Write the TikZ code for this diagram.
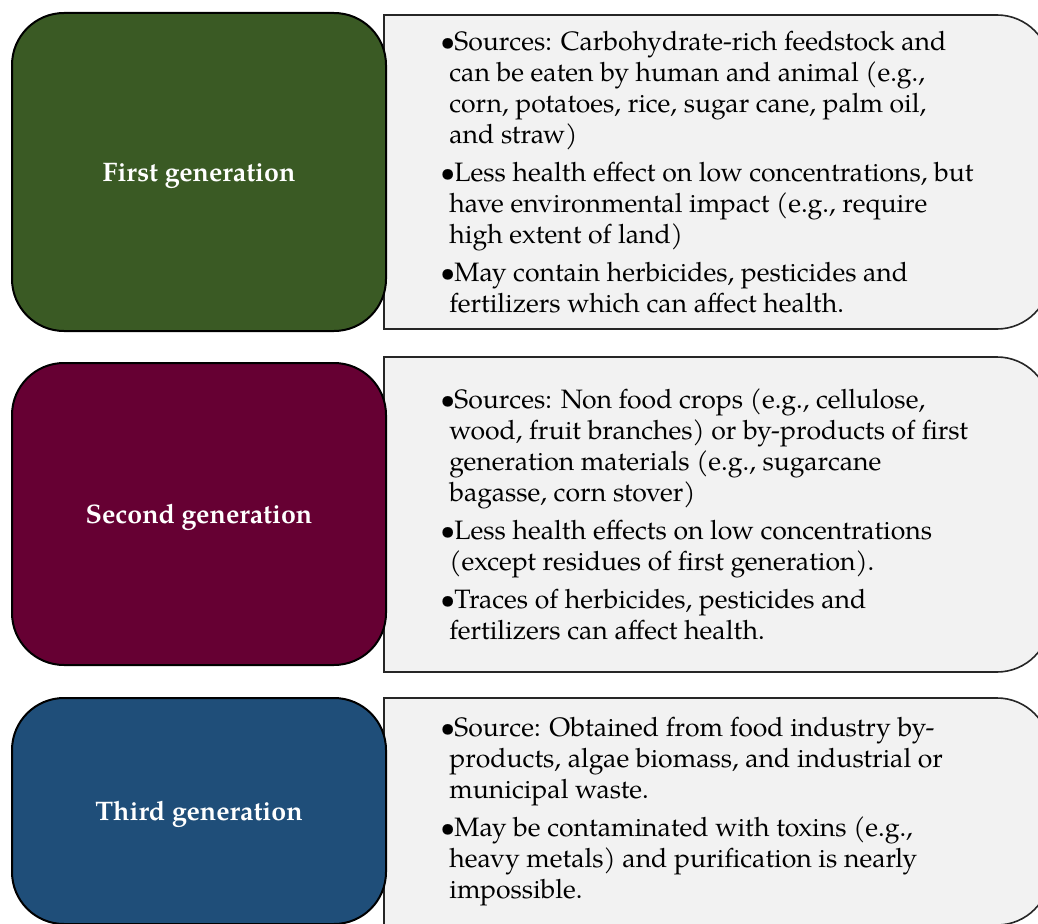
\documentclass[tikz,border=0pt]{standalone}
\usepackage{fontspec}
\setmainfont{TeX Gyre Pagella}
\definecolor{gGreen}{HTML}{3A5A24}
\definecolor{gMaroon}{HTML}{660033}
\definecolor{gBlue}{HTML}{1F4E79}
\definecolor{panel}{HTML}{F2F2F2}
\tikzset{
  genbox/.style={draw=black, line width=1pt, rounded corners=26pt, minimum width=187pt,
    text=white, font=\fontsize{13.4}{15}\selectfont\bfseries, inner sep=0pt, text depth=0pt},
  panelbox/.style={draw=black!85, line width=0.8pt, fill=panel},
  txt/.style={anchor=west, inner sep=0pt, align=left, text=black,
    font=\fontsize{13.3}{15.5}\selectfont}
}
\newcommand{\bitem}{\makebox[7pt][l]{\textbullet}}
\newcommand{\cont}{\hspace*{4.5pt}}
\begin{document}
\begin{tikzpicture}[x=0.5pt,y=0.5pt]
\clip (0,0) rectangle (1038,923);
\fill[white] (0,0) rectangle (1038,923);
% panels
\draw[panelbox] (384,594) -- (384,908) -- (997,908) arc[start angle=90,end angle=0,radius=26.5pt]
  -- (1050,647) arc[start angle=0,end angle=-90,radius=26.5pt] -- cycle;
\draw[panelbox] (384,251) -- (384,566) -- (997,566) arc[start angle=90,end angle=0,radius=26.5pt]
  -- (1050,304) arc[start angle=0,end angle=-90,radius=26.5pt] -- cycle;
\draw[panelbox] (384,-2) -- (384,225) -- (997,225) arc[start angle=90,end angle=0,radius=26.5pt]
  -- (1050,51) arc[start angle=0,end angle=-90,radius=26.5pt] -- cycle;
% generation boxes
\node[genbox, fill=gGreen, minimum height=159pt] (g1) at (199,751) {First generation};
\node[genbox, fill=gMaroon, minimum height=151pt] (g2) at (199,409) {Second generation};
\node[genbox, fill=gBlue, minimum height=113pt] (g3) at (199,112) {Third generation};
% texts
\node[txt] (t1) at (440,751) {%
\bitem Sources: Carbohydrate-rich feedstock and\\
\cont can be eaten by human and animal (e.g.,\\
\cont corn, potatoes, rice, sugar cane, palm oil,\\
\cont and straw)\\[3.5pt]
\bitem Less health effect on low concentrations, but\\
\cont have environmental impact (e.g., require\\
\cont high extent of land)\\[3.5pt]
\bitem May contain herbicides, pesticides and\\
\cont fertilizers which can affect health.};
\node[txt] (t2) at (440,408.5) {%
\bitem Sources: Non food crops (e.g., cellulose,\\
\cont wood, fruit branches) or by-products of first\\
\cont generation materials (e.g., sugarcane\\
\cont bagasse, corn stover)\\[3.5pt]
\bitem Less health effects on low concentrations\\
\cont (except residues of first generation).\\[3.5pt]
\bitem Traces of herbicides, pesticides and\\
\cont fertilizers can affect health.};
\node[txt] (t3) at (440,111.5) {%
\bitem Source: Obtained from food industry by-\\
\cont products, algae biomass, and industrial or\\
\cont municipal waste.\\[3.5pt]
\bitem May be contaminated with toxins (e.g.,\\
\cont heavy metals) and purification is nearly\\
\cont impossible.};
\end{tikzpicture}
\end{document}
